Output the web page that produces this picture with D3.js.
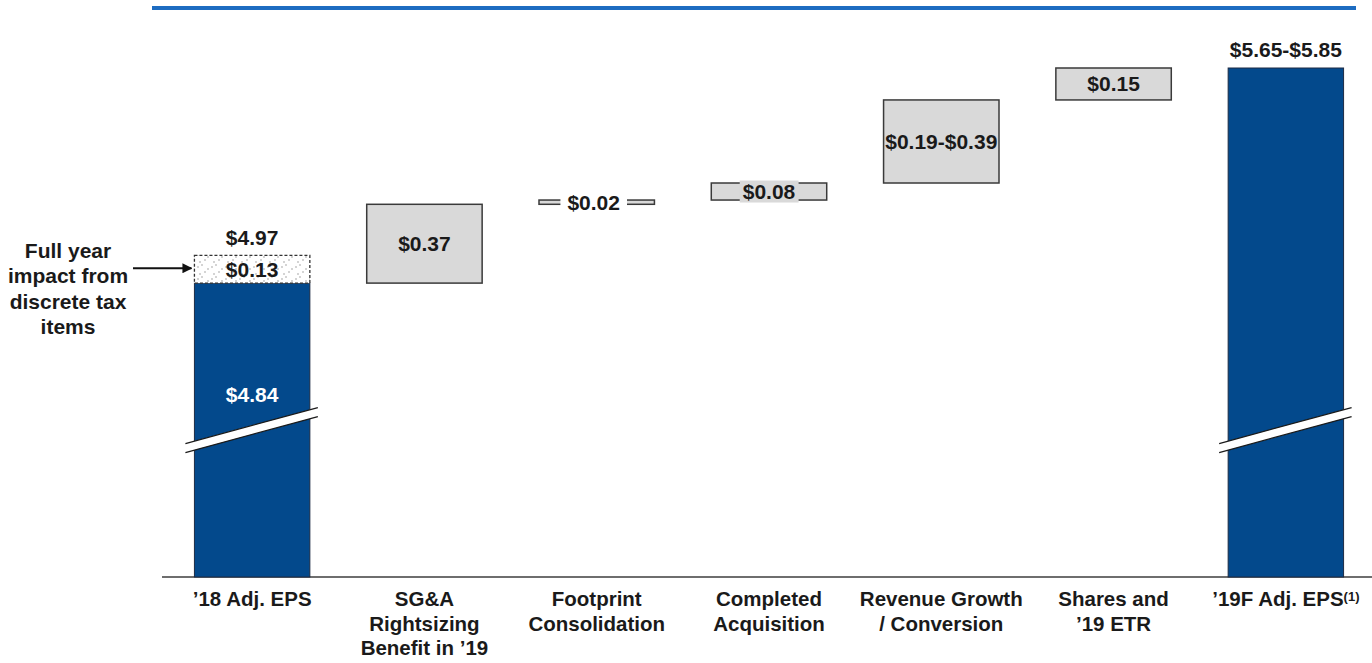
<!DOCTYPE html>
<html>
<head>
<meta charset="utf-8">
<script src="https://cdn.jsdelivr.net/npm/d3@7"></script>
<style>
  html, body { margin: 0; padding: 0; background: #fff; }
  svg { display: block; }
  text { font-family: "Liberation Sans", Arial, sans-serif; font-weight: bold; fill: #1a1a1a; }
</style>
</head>
<body>
<svg id="chart" width="1372" height="663"></svg>
<script>
// ---- data ----
const categories = ["c0", "c1", "c2", "c3", "c4", "c5", "c6"];
const categoryLines = [
  ["’18 Adj. EPS"],
  ["SG&A", "Rightsizing", "Benefit in ’19"],
  ["Footprint", "Consolidation"],
  ["Completed", "Acquisition"],
  ["Revenue Growth", "/ Conversion"],
  ["Shares and", "’19 ETR"],
  ["’19F Adj. EPS"]
];
const startEPS = 4.84;
const discreteTax = 0.13;
const stepValues = [0.37, 0.02, 0.08, 0.39, 0.15];   // drawn height of each step (revenue at its high end)
const stepLabels = ["$0.37", "$0.02", "$0.08", "$0.19-$0.39", "$0.15"];
const endEPS = 5.85;
const startLabel = "$4.84";
const taxLabel = "$0.13";
const startTotalLabel = "$4.97";
const endLabel = "$5.65-$5.85";
const annotationLines = ["Full year", "impact from", "discrete tax", "items"];
const axisFloor = 3.46;   // truncated (broken) axis floor
const breakLevel = 4.15;  // where the axis-break mark is drawn on the blue bars

// ---- setup ----
const svg = d3.select("#chart");
const W = 1372, H = 663;
const baseY = 577;
const y = d3.scaleLinear().domain([axisFloor, endEPS]).range([baseY, 68]);
const x = d3.scaleBand().domain(categories).range([166, 1372]).paddingInner(0.33).paddingOuter(0.165);
const bw = x.bandwidth();

const BLUE = "#03498c";
const GRAY = "#d9d9d9";
const EDGE = "#3a3a3a";
const VAL_FS = "21px";
const CAT_FS = "20.5px";

// defs: dotted pattern & arrow marker
const defs = svg.append("defs");
const pat = defs.append("pattern").attr("id", "dots").attr("patternUnits", "userSpaceOnUse")
  .attr("width", 14).attr("height", 12);
pat.append("rect").attr("width", 14).attr("height", 12).attr("fill", "#fff");
[[2,3],[9,8],[6,1],[12,5],[4,10]].forEach(([cx, cy]) =>
  pat.append("circle").attr("cx", cx).attr("cy", cy).attr("r", 0.7).attr("fill", "#888"));
defs.append("marker").attr("id", "arrow").attr("viewBox", "0 0 10 10")
  .attr("refX", 9).attr("refY", 5).attr("markerWidth", 10).attr("markerHeight", 10)
  .attr("markerUnits", "userSpaceOnUse").attr("orient", "auto")
  .append("path").attr("d", "M0,0 L10,5 L0,10 z").attr("fill", "#111");

// top rule
svg.append("line").attr("x1", 152).attr("x2", 1356).attr("y1", 8).attr("y2", 8)
  .attr("stroke", "#1d6cc1").attr("stroke-width", 4);

// axis baseline
svg.append("line").attr("x1", 162).attr("x2", W).attr("y1", baseY).attr("y2", baseY)
  .attr("stroke", "#6e6e6e").attr("stroke-width", 2);

// category labels
const lab = svg.append("g");
categories.forEach((c, i) => {
  const t = lab.append("text").attr("x", x(c) + bw / 2).attr("y", 606)
    .attr("text-anchor", "middle").style("font-size", CAT_FS);
  categoryLines[i].forEach((ln, j) => {
    t.append("tspan").attr("x", x(c) + bw / 2).attr("dy", j === 0 ? 0 : 24.5).text(ln);
  });
  if (i === 6) {
    t.append("tspan").attr("dy", -5).style("font-size", "13px").text("(1)");
  }
});

// ---- start bar ----
const c0 = categories[0];
svg.append("rect").attr("x", x(c0)).attr("width", bw)
  .attr("y", y(startEPS)).attr("height", baseY - y(startEPS))
  .attr("fill", BLUE).attr("stroke", "#1c2a44").attr("stroke-width", 1);
svg.append("rect").attr("x", x(c0)).attr("width", bw)
  .attr("y", y(startEPS + discreteTax)).attr("height", y(startEPS) - y(startEPS + discreteTax))
  .attr("fill", "url(#dots)").attr("stroke", "#333").attr("stroke-width", 1.3)
  .attr("stroke-dasharray", "3,2");
svg.append("text").attr("x", x(c0) + bw / 2).attr("y", (y(startEPS) + y(startEPS + discreteTax)) / 2 + 7.5)
  .attr("text-anchor", "middle").style("font-size", VAL_FS).text(taxLabel);
svg.append("text").attr("x", x(c0) + bw / 2).attr("y", y(startEPS + discreteTax) - 10)
  .attr("text-anchor", "middle").style("font-size", VAL_FS).text(startTotalLabel);
svg.append("text").attr("x", x(c0) + bw / 2).attr("y", 402)
  .attr("text-anchor", "middle").style("font-size", VAL_FS).style("fill", "#fff").text(startLabel);

// annotation
const ann = svg.append("text").attr("x", 68).attr("y", 258).attr("text-anchor", "middle").style("font-size", "21px");
annotationLines.forEach((ln, j) => ann.append("tspan").attr("x", 68).attr("dy", j === 0 ? 0 : 25.3).text(ln));
svg.append("line").attr("x1", 133).attr("x2", x(c0) - 3)
  .attr("y1", y(startEPS + discreteTax / 2) - 1).attr("y2", y(startEPS + discreteTax / 2) - 1)
  .attr("stroke", "#111").attr("stroke-width", 2).attr("marker-end", "url(#arrow)");

// ---- end bar ----
const c6 = categories[6];
svg.append("rect").attr("x", x(c6)).attr("width", bw)
  .attr("y", y(endEPS)).attr("height", baseY - y(endEPS))
  .attr("fill", BLUE).attr("stroke", "#1c2a44").attr("stroke-width", 1);
svg.append("text").attr("x", x(c6) + bw / 2).attr("y", y(endEPS) - 11)
  .attr("text-anchor", "middle").style("font-size", VAL_FS).text(endLabel);

// ---- break marks ----
[c0, c6].forEach(c => {
  const x0 = x(c) - 9, x1 = x(c) + bw + 8;
  const yc = y(breakLevel);
  const rise = 36, gap = 9;
  const yL = yc + rise / 2, yR = yc - rise / 2;
  svg.append("path")
    .attr("d", `M${x0},${yL - gap / 2} L${x1},${yR - gap / 2} L${x1},${yR + gap / 2} L${x0},${yL + gap / 2} Z`)
    .attr("fill", "#fff");
  [-gap / 2, gap / 2].forEach(o =>
    svg.append("line").attr("x1", x0).attr("y1", yL + o).attr("x2", x1).attr("y2", yR + o)
      .attr("stroke", "#1a1a1a").attr("stroke-width", 1.2));
});

// ---- floating steps ----
let cum = startEPS;
stepValues.forEach((v, i) => {
  const c = categories[i + 1];
  const lo = cum, hi = cum + v;
  cum = hi;
  const top = y(hi), bot = y(lo);
  const small = bot - top < 8;
  const cx = x(c) + bw / 2 - (small ? 3 : 0), cy = (top + bot) / 2;
  const g = svg.append("g");
  g.append("rect").attr("x", x(c)).attr("width", bw).attr("y", top).attr("height", Math.max(bot - top, 4))
    .attr("fill", GRAY).attr("stroke", EDGE).attr("stroke-width", 1.5);
  const t = g.append("text").attr("x", cx).attr("y", cy + 7.5).attr("text-anchor", "middle")
    .style("font-size", VAL_FS).text(stepLabels[i]);
  if (bot - top < 25) {
    const bb = t.node().getBBox();
    const pad = small ? 7 : 3;
    g.insert("rect", "text").attr("x", bb.x - pad).attr("width", bb.width + 2 * pad)
      .attr("y", cy - 11).attr("height", 22)
      .attr("fill", small ? "#fff" : GRAY);
  }
});
</script>
</body>
</html>
